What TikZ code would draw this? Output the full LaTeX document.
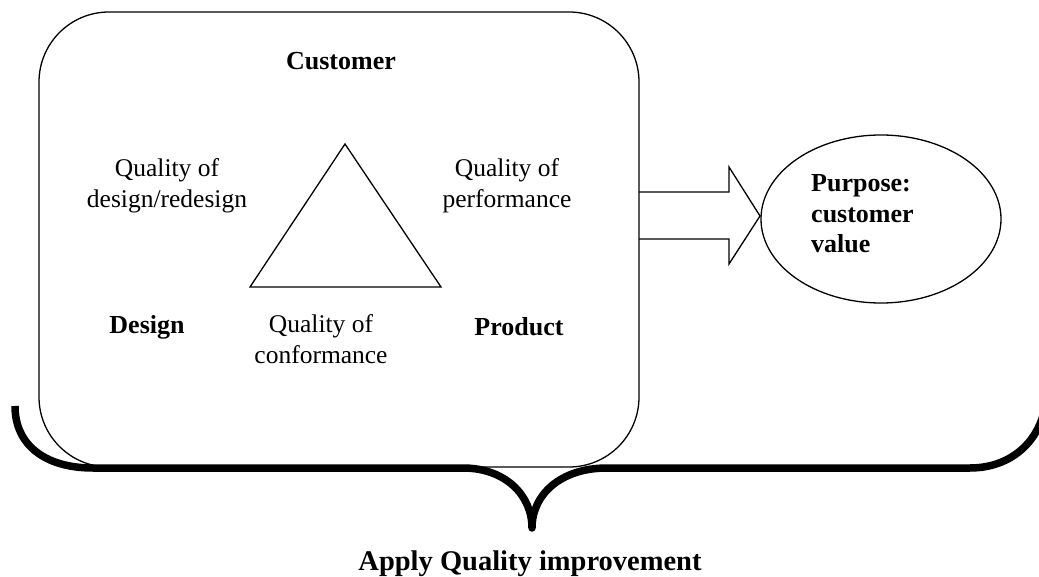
\documentclass[tikz,border=0pt]{standalone}
\usepackage{fontspec}
\setmainfont{Liberation Serif}
\begin{document}
\begin{tikzpicture}[x=1pt,y=-1pt,
  thin line/.style={line width=1.3pt, black},
  lbl/.style={anchor=base, inner sep=0pt, font=\fontsize{25.5}{30}\selectfont},
  blbl/.style={lbl, font=\fontsize{26}{30}\selectfont\bfseries},
  blblw/.style={blbl, anchor=base west},
  bigbold/.style={lbl, font=\fontsize{28.5}{33}\selectfont\bfseries}]
\useasboundingbox (0,0) rectangle (1039,577);
% main rounded box
\draw[thin line, rounded corners=70pt] (39,12) rectangle (639,467);
% triangle
\coordinate (apex) at (345,144);
\coordinate (bl) at (250,287);
\coordinate (br) at (441,287);
\draw[thin line, line join=miter] (apex) -- (bl) -- (br) -- cycle;
% block arrow
\coordinate (a1) at (639,192);
\coordinate (a2) at (729,192);
\coordinate (a3) at (729,167);
\coordinate (tip) at (760,216);
\coordinate (a5) at (729,264);
\coordinate (a6) at (729,239);
\coordinate (a7) at (639,239);
\draw[thin line, line join=miter] (a1) -- (a2) -- (a3) -- (tip) -- (a5) -- (a6) -- (a7);
% ellipse
\draw[thin line] (881,219) ellipse [x radius=120, y radius=84];
% brace
\coordinate (bL) at (15,406);
\coordinate (bR) at (1046,400);
\coordinate (btip) at (532,528);
\draw[line width=7.5pt, line cap=butt, line join=round]
  (bL) .. controls (15,445) and (45,468) .. (93,468) -- (463,468)
  .. controls (505,468) and (532,495) .. (btip)
  .. controls (532,495) and (560,468) .. (607,468) -- (970,468)
  .. controls (1012,468) and (1042,440) .. (bR);
% labels
\node[blbl] (cust) at (341,70) {Customer};
\node[lbl] (qd1) at (167,177) {Quality of};
\node[lbl] (qd2) at (167,208) {design/redesign};
\node[lbl] (qp1) at (507,177) {Quality of};
\node[lbl] (qp2) at (507,208) {performance};
\node[blbl] (des) at (147,334) {Design};
\node[lbl] (qc1) at (321,333) {Quality of};
\node[lbl] (qc2) at (321,363) {conformance};
\node[blbl] (prod) at (519,335) {Product};
\node[blblw] (p1) at (811,192) {Purpose:};
\node[blblw] (p2) at (811,223) {customer};
\node[blblw] (p3) at (811,253) {value};
\node[bigbold] (apply) at (530,570) {Apply Quality improvement};
\end{tikzpicture}
\end{document}
